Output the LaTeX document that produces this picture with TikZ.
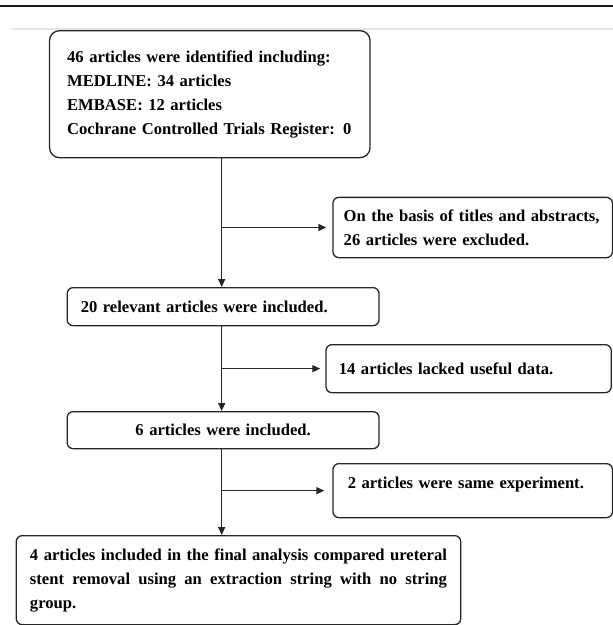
\documentclass[tikz,border=0pt]{standalone}
\usepackage{fontspec}
\setmainfont{Liberation Serif}
\usetikzlibrary{arrows.meta}

\begin{document}
\begin{tikzpicture}[x=1pt,y=-1pt,font=\fontsize{16.6}{24}\selectfont\bfseries,
	box/.style = {draw=black!85, line width=1.3pt, rounded corners=6pt, anchor=north west, inner ysep=0pt},
	link/.style = {line width=1.3pt, black!85, -{Triangle[length=8pt,width=7pt]}}]
					\useasboundingbox (0,0) rectangle (613,625);
					\draw [line width=2.4pt,black!90] (0,6) -- (613,6);
					\draw [line width=1.5pt,black!10] (11,29) -- (613,29);
					\coordinate (S) at (221.7,0);
					\begin{scope}[every node/.style={box}]
						\node[rounded corners=10pt,inner xsep=17.6pt,text width=285.3pt,minimum height=127pt,align=left] (A) at (48.9,30) {46 articles were identified including:\\MEDLINE: 34 articles\\EMBASE: 12 articles\\Cochrane Controlled Trials Register: 0};
						\node[inner xsep=10.75pt,text width=258pt,minimum height=60.3pt,align=left] (B) at (332.3,196.7) {On the basis of titles and abstracts,\\26 articles were excluded.};
						\node[inner xsep=13.6pt,text width=284.7pt,minimum height=38pt,align=left] (C) at (66.5,287) {20 relevant articles were included.};
						\node[inner xsep=12.9pt,text width=259.5pt,minimum height=48pt,align=left] (D) at (325.3,344) {14 articles lacked useful data.};
						\node[inner xsep=13.6pt,text width=284.7pt,minimum height=37pt,align=center] (E) at (66.5,411) {6 articles were included.};
						\node[inner xsep=14.8pt,text width=249.9pt,minimum height=54pt,text depth=16pt,align=left] (F) at (332.3,463) {2 articles were same experiment.};
						\node[inner xsep=13.75pt,text width=417pt,minimum height=89pt,align=justify] (G) at (15.6,535) {4 articles included in the final analysis compared ureteral stent removal using an extraction string with no string group.};
					\end{scope}
					\draw [link] (A.south -| S) -- (C.north -| S);
					\draw [link] (C.south -| S) -- (E.north -| S);
					\draw [link] (E.south -| S) -- (G.north -| S);
					\draw [link,shorten >=6pt] (B.west -| S) -- (B.west);
					\draw [link,shorten >=5pt] (D.west -| S) -- (D.west);
					\draw [link,shorten >=8pt] (F.west -| S) -- (F.west);
				\end{tikzpicture}
\end{document}
